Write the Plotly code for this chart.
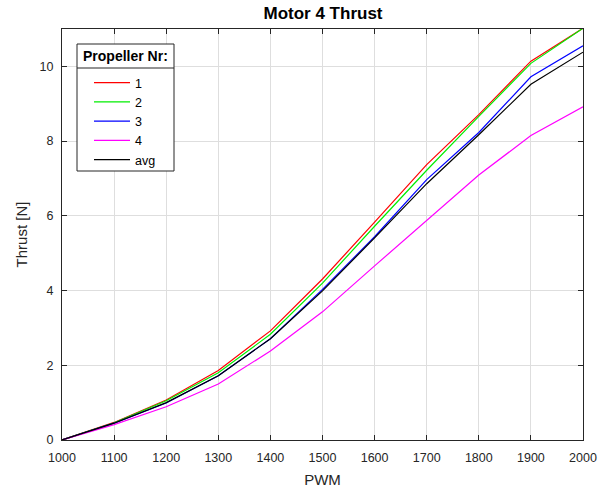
import plotly.graph_objects as go

# PWM command values (x axis)
pwm = [1000, 1100, 1200, 1300, 1400, 1500, 1600, 1700, 1800, 1900, 2000]

# Measured thrust [N] for each propeller
prop1 = [0, 0.47, 1.07, 1.86, 2.92, 4.31, 5.83, 7.37, 8.71, 10.14, 11.02]
prop2 = [0, 0.46, 1.05, 1.80, 2.83, 4.20, 5.72, 7.22, 8.66, 10.08, 11.02]
prop3 = [0, 0.45, 0.99, 1.72, 2.71, 4.03, 5.44, 6.97, 8.23, 9.72, 10.55]
prop4 = [0, 0.41, 0.89, 1.50, 2.38, 3.43, 4.66, 5.88, 7.09, 8.15, 8.92]
avg = [0, 0.45, 1.00, 1.72, 2.71, 3.99, 5.41, 6.86, 8.17, 9.52, 10.38]

series_names = ["1", "2", "3", "4", "avg"]
series_values = [prop1, prop2, prop3, prop4, avg]
series_colors = ["#ff0000", "#00ee00", "#0000ff", "#ff00ff", "#000000"]

x_ticks = list(range(1000, 2001, 100))
y_ticks = [0, 2, 4, 6, 8, 10]

FONT = "Liberation Sans, Arial, sans-serif"
AX = "#262626"
GRID = "#dedede"

fig = go.Figure()
for name, vals, col in zip(series_names, series_values, series_colors):
    fig.add_trace(go.Scatter(
        x=pwm, y=vals, name=name, mode="lines",
        line=dict(color=col, width=1.2),
    ))

# legend frame with title separator
def px_x(p):
    return (p - 62) / 521


def px_y(p):
    return (440 - p) / 411


lx0, lx1 = px_x(77), px_x(174)
ly0, ly1 = px_y(171), px_y(44)
lsep = px_y(68)
fig.add_shape(type="rect", xref="paper", yref="paper",
              x0=lx0, x1=lx1, y0=ly0, y1=ly1,
              fillcolor="white", line=dict(color=AX, width=1), layer="above")
fig.add_shape(type="line", xref="paper", yref="paper",
              x0=lx0, x1=lx1, y0=lsep, y1=lsep,
              line=dict(color=AX, width=1), layer="above")
fig.add_annotation(text="<b>Propeller Nr:</b>", xref="paper", yref="paper",
                   x=(lx0 + lx1) / 2, y=px_y(56.5), xanchor="center", yanchor="middle",
                   showarrow=False, font=dict(family=FONT, size=14, color="#000000"))

axis_common = dict(
    showline=True, linecolor=AX, linewidth=1, mirror="ticks",
    ticks="inside", ticklen=5, tickcolor=AX, tickwidth=1,
    showgrid=True, gridcolor=GRID, gridwidth=1, zeroline=False,
    automargin=False,
    tickfont=dict(family=FONT, size=12.5, color=AX),
)

fig.update_layout(
    width=613, height=495,
    margin=dict(l=62, r=30, t=29, b=55),
    paper_bgcolor="white", plot_bgcolor="white",
    font=dict(family=FONT, color=AX),
    title=dict(text="<b>Motor 4 Thrust</b>", x=(323 / 613), xanchor="center",
               y=1 - 13 / 495, yanchor="middle",
               font=dict(family=FONT, size=17, color="#000000")),
    xaxis=dict(range=[1000, 2000], tickvals=x_ticks, ticklabelstandoff=6,
               title=dict(text="PWM", font=dict(family=FONT, size=15, color=AX), standoff=10),
               **axis_common),
    yaxis=dict(range=[0, 11], tickvals=y_ticks, ticklabelstandoff=5,
               title=dict(text="Thrust [N]", font=dict(family=FONT, size=15, color=AX), standoff=8),
               **axis_common),
    legend=dict(
        x=px_x(89), y=px_y(68), xanchor="left", yanchor="top",
        bgcolor="rgba(0,0,0,0)", borderwidth=0, itemwidth=36,
        font=dict(family=FONT, size=12.5, color="#000000"),
    ),
    showlegend=True,
)

fig.write_html("out.html")
